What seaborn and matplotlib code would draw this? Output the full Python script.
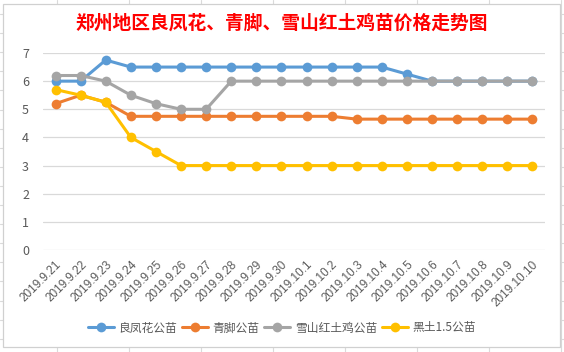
import matplotlib
matplotlib.use("Agg")
import matplotlib.pyplot as plt
import matplotlib.patches as mpatches
from matplotlib.lines import Line2D
import seaborn as sns
import pandas as pd

dates = ["2019.9.21", "2019.9.22", "2019.9.23", "2019.9.24", "2019.9.25", "2019.9.26",
         "2019.9.27", "2019.9.28", "2019.9.29", "2019.9.30", "2019.10.1", "2019.10.2",
         "2019.10.3", "2019.10.4", "2019.10.5", "2019.10.6", "2019.10.7", "2019.10.8",
         "2019.10.9", "2019.10.10"]
liangfenghua = [6, 6, 6.75, 6.5, 6.5, 6.5, 6.5, 6.5, 6.5, 6.5, 6.5, 6.5, 6.5, 6.5, 6.25, 6, 6, 6, 6, 6]
qingjiao = [5.2, 5.5, 5.25, 4.75, 4.75, 4.75, 4.75, 4.75, 4.75, 4.75, 4.75, 4.75,
            4.65, 4.65, 4.65, 4.65, 4.65, 4.65, 4.65, 4.65]
xueshan = [6.2, 6.2, 6, 5.5, 5.2, 5, 5, 6, 6, 6, 6, 6, 6, 6, 6, 6, 6, 6, 6, 6]
heitu = [5.7, 5.5, 5.25, 4, 3.5, 3, 3, 3, 3, 3, 3, 3, 3, 3, 3, 3, 3, 3, 3, 3]
series_names = ["良凤花公苗", "青脚公苗", "雪山红土鸡公苗", "黑土1.5公苗"]
colors = ["#5B9BD5", "#ED7D31", "#A5A5A5", "#FFC000"]
title = "郑州地区良凤花、青脚、雪山红土鸡苗价格走势图"

sns.set_theme(style="white")
plt.rcParams['font.family'] = ['Noto Sans CJK SC', 'DejaVu Sans']

rows = []
for name, vals in zip(series_names, [liangfenghua, qingjiao, xueshan, heitu]):
    for i, v in enumerate(vals):
        rows.append({"idx": i, "date": dates[i], "series": name, "price": v})
df = pd.DataFrame(rows)

W, H = 564, 352
fig = plt.figure(figsize=(W / 100, H / 100), dpi=100)
fig.patch.set_facecolor("white")

# spreadsheet grid behind the chart
grid_c = "#DADADA"
for k in range(0, 9):
    x = 57 + 72 * k
    fig.add_artist(Line2D([x / W, x / W], [0, 1], color=grid_c, lw=0.8, zorder=0))
for k in range(0, 19):
    y = 14 + 19.1 * k
    fig.add_artist(Line2D([0, 1], [1 - y / H, 1 - y / H], color=grid_c, lw=0.8, zorder=0))
# chart area
fig.add_artist(mpatches.Rectangle((3 / W, 1 - 347 / H), (560 - 3) / W, (347 - 4) / H,
                                  facecolor="white", edgecolor="#D0D0D0", lw=0.9, zorder=1))

ax = fig.add_axes([43 / W, 1 - 250 / H, (545 - 43) / W, (250 - 53) / H], zorder=2)
ax.set_facecolor("none")

sns.lineplot(data=df, x="idx", y="price", hue="series", hue_order=series_names,
             palette=colors, marker="o", markersize=7, markeredgewidth=0,
             linewidth=2.2, ax=ax, legend=False, sort=False)

ax.set_xlim(-0.5, 19.5)
ax.set_ylim(0, 7)
ax.set_yticks(range(0, 8))
ax.yaxis.grid(True, color="#D9D9D9", lw=0.9)
ax.set_axisbelow(True)
for s in ax.spines.values():
    s.set_visible(False)
ax.set_xticks(range(len(dates)))
ax.set_xticklabels(dates, rotation=45, ha="right", rotation_mode="anchor",
                   fontsize=8.5, color="#595959", family=['Liberation Sans', 'DejaVu Sans'])
ax.tick_params(axis="x", length=0, pad=6)
ax.tick_params(axis="y", length=0, pad=10, labelsize=9, labelcolor="#595959")
ax.set_xlabel("")
ax.set_ylabel("")

fig.text(282 / W, 1 - 23 / H, title, ha="center", va="center", color="#FF0000",
         fontsize=13.5, fontweight="bold")

handles = [Line2D([0], [0], color=c, lw=2.2, marker="o", markersize=7, markeredgewidth=0)
           for c in colors]
leg = fig.legend(handles, series_names, loc="center", bbox_to_anchor=(282 / W, 1 - 328 / H),
                 ncol=4, frameon=False, fontsize=8.5, handlelength=2.2, columnspacing=0.4,
                 handletextpad=0.4, labelcolor="#595959")

fig.savefig("out.png", dpi=100)
